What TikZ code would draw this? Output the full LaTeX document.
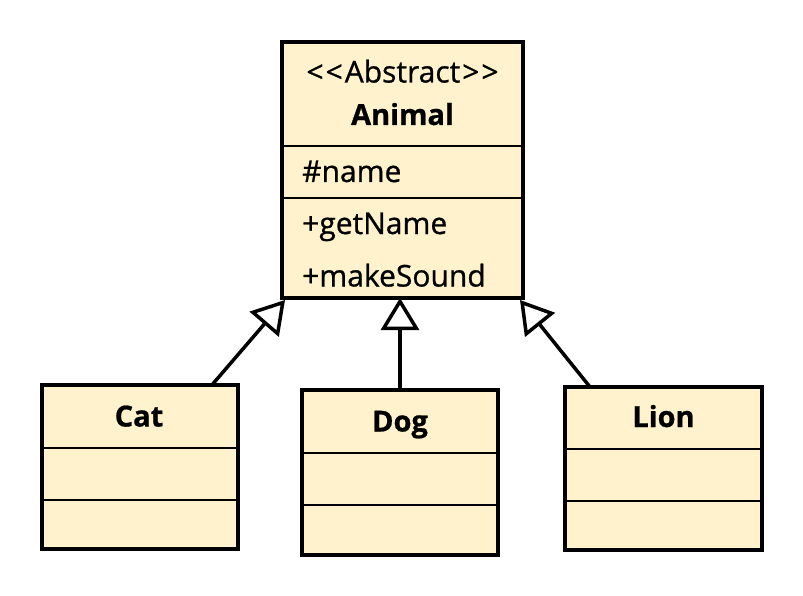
\documentclass[tikz,border=0pt]{standalone}
\usepackage{fontspec}
\setmainfont{Open Sans}[FakeBold=0.8]
\usetikzlibrary{arrows.meta,calc}
\definecolor{classfill}{HTML}{FFF2CC}
\begin{document}
\begin{tikzpicture}[x=1pt,y=-1pt,
  classbox/.style={draw=black,line width=4pt,fill=classfill,rectangle,
    inner sep=0pt,outer sep=0pt,anchor=north west},
  divider/.style={line width=2pt},
  inherit/.style={line width=3.5pt,
    -{Triangle[open,length=32pt,width=38pt,fill=white]}},
  member/.style={anchor=base west,inner sep=0pt,font=\fontsize{30}{34}\selectfont},
  title/.style={anchor=base,inner sep=0pt,font=\fontsize{29}{34}\selectfont\bfseries},
  stereo/.style={anchor=base,inner sep=0pt,font=\fontsize{30}{34}\selectfont}]
\useasboundingbox (0,0) rectangle (803,596);

% class boxes
\node[classbox,minimum width=241pt,minimum height=256pt] (animal) at (282,42) {};
\node[classbox,minimum width=196pt,minimum height=164pt] (cat) at (42,385) {};
\node[classbox,minimum width=196pt,minimum height=165pt] (dog) at (302,390) {};
\node[classbox,minimum width=197pt,minimum height=163pt] (lion) at (565,387) {};

% compartment dividers
\draw[divider] (animal.west |- 0,146) -- (animal.east |- 0,146);
\draw[divider] (animal.west |- 0,198) -- (animal.east |- 0,198);
\draw[divider] (cat.west |- 0,448) -- (cat.east |- 0,448);
\draw[divider] (cat.west |- 0,500) -- (cat.east |- 0,500);
\draw[divider] (dog.west |- 0,453) -- (dog.east |- 0,453);
\draw[divider] (dog.west |- 0,505) -- (dog.east |- 0,505);
\draw[divider] (lion.west |- 0,449) -- (lion.east |- 0,449);
\draw[divider] (lion.west |- 0,501) -- (lion.east |- 0,501);

% texts
\node[stereo] (animalstereo) at (402.5,82.5) {<\kern2pt<\kern2pt Abstract\kern2pt>\kern2pt>};
\node[title] (animalname) at (402.5,125) {Animal};
\node[member] (attrname) at (302,182) {\#name};
\node[member] (opgetname) at (302,234) {+getName};
\node[member] (opmakesound) at (302,286.5) {+makeSound};
\node[title] (catname) at (139,426.5) {Cat};
\node[title] (dogname) at (400,431.5) {Dog};
\node[title] (lionname) at (663.5,427) {Lion};

% generalisation arrows
\draw[inherit] ($(cat.north west)!0.867!(cat.north east)$) -- ($(animal.south west)+(3,2)$);
\draw[inherit] (dog.north) -- (dog.north |- animal.south);
\draw[inherit] ($(lion.north west)!0.127!(lion.north east)$) -- ($(animal.south east)+(-3,2)$);
\end{tikzpicture}
\end{document}
